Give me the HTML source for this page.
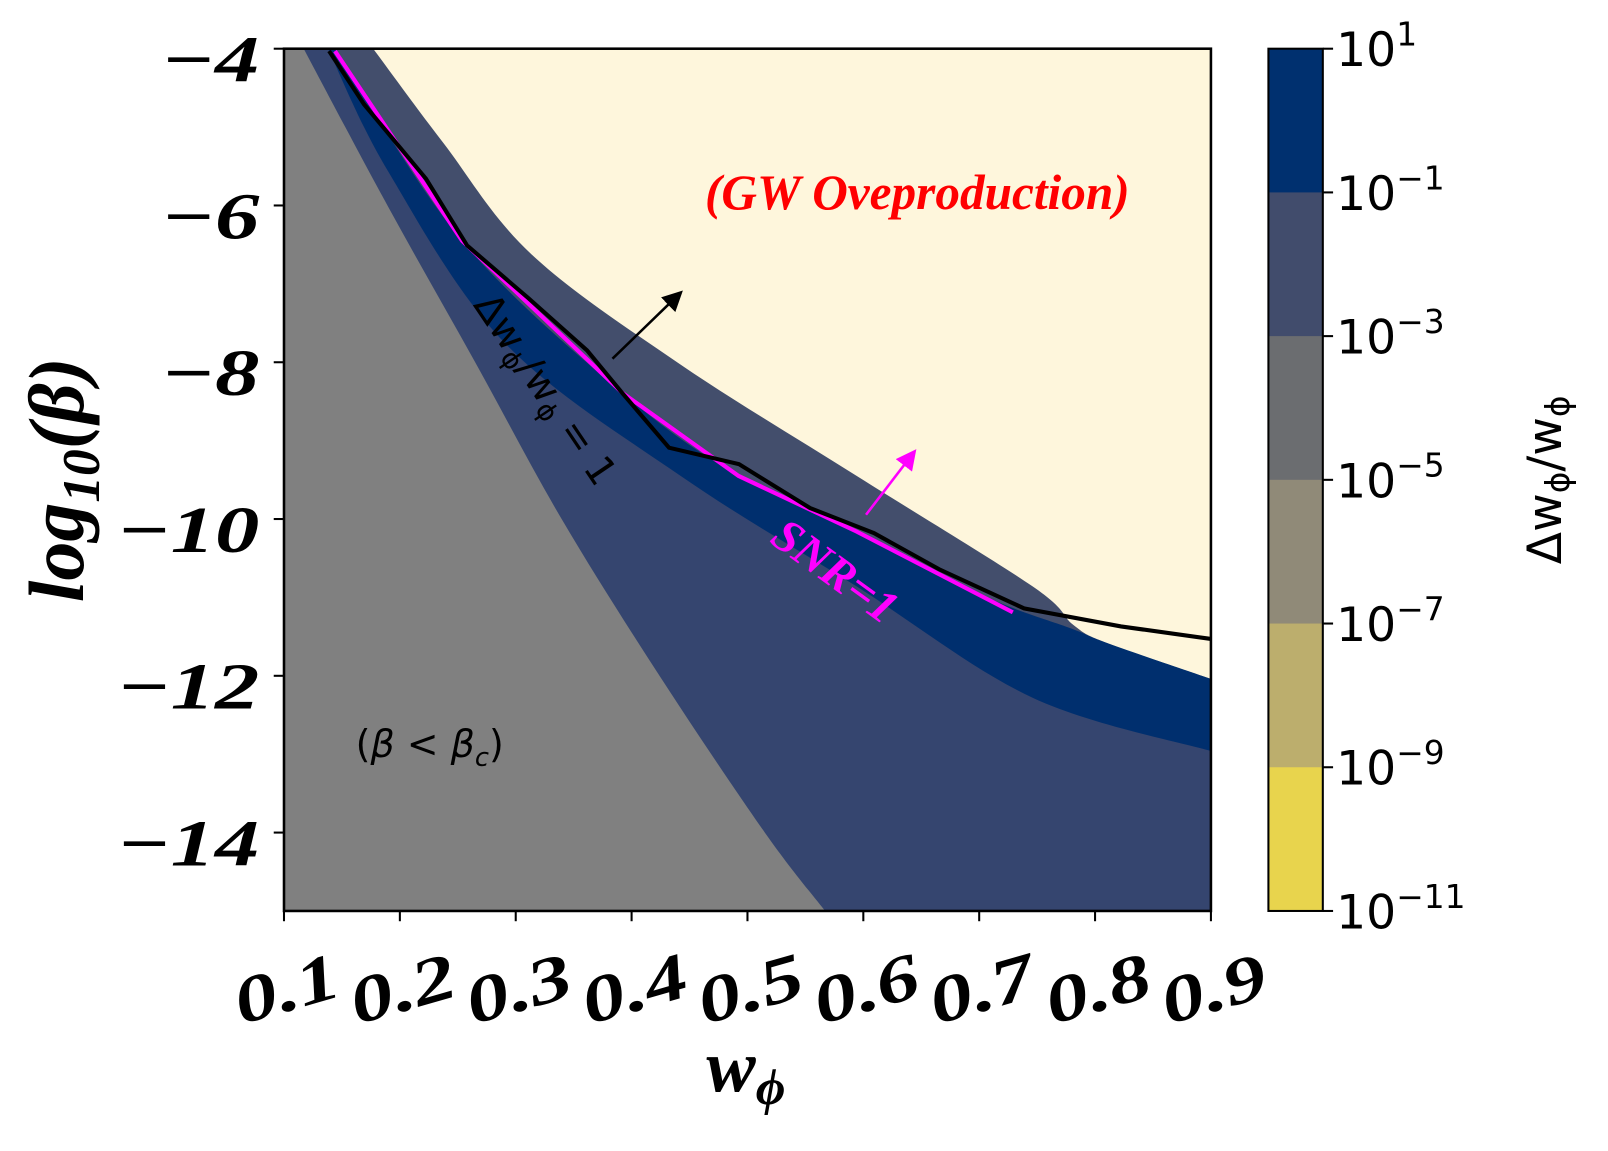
<!DOCTYPE html>
<html><head><meta charset="utf-8"><style>
body{margin:0;background:#fff;overflow:hidden;}
svg{display:block;}
</style></head><body>
<svg id="chart" width="1608" height="1151" viewBox="0 0 1608 1151" xmlns="http://www.w3.org/2000/svg">
<defs>
<marker id="ah" markerWidth="8" markerHeight="8" refX="6" refY="4" orient="auto"><path d="M0,0 L8,4 L0,8 Z" fill="#000"/></marker>
<marker id="ahm" markerWidth="8" markerHeight="8" refX="6" refY="4" orient="auto"><path d="M0,0 L8,4 L0,8 Z" fill="#ff00ff"/></marker>
</defs>
<g id="root" transform="translate(-1.37,1.48) scale(1.0265)">
<g id="layers"></g>
<g>
<line x1="598" y1="348" x2="663" y2="285" stroke="#000" stroke-width="2.5" marker-end="url(#ah)"/>
<line x1="845" y1="500" x2="891" y2="440" stroke="#ff00ff" stroke-width="2.5" marker-end="url(#ahm)"/>
<text x="895" y="202" text-anchor="middle" fill="#ff0000" style='font-family:"Liberation Serif",serif;font-style:italic;font-weight:bold;font-size:48px'>(GW Oveproduction)</text>
<text x="0" y="0" transform="translate(522,385) rotate(56)" text-anchor="middle" style='font-family:"DejaVu Sans",sans-serif;font-size:38px'>Δw<tspan font-size="26px" dy="7">ϕ</tspan><tspan dy="-7">/w</tspan><tspan font-size="26px" dy="7">ϕ</tspan><tspan dy="-7"> = 1</tspan></text>
<text x="0" y="0" transform="translate(806,567) rotate(36)" text-anchor="middle" fill="#ff00ff" style='font-family:"Liberation Serif",serif;font-style:italic;font-weight:bold;font-size:46px'>SNR=1</text>
<text x="420" y="736" text-anchor="middle" style='font-family:"DejaVu Sans",sans-serif;font-size:37px'>(<tspan font-style="italic">β</tspan> &lt; <tspan font-style="italic">β</tspan><tspan font-style="italic" font-size="25px" dy="9">c</tspan><tspan dy="-9">)</tspan></text>
<text x="0" y="0" transform="translate(82,466) rotate(-90)" text-anchor="middle" style='font-family:"Liberation Serif",serif;font-style:italic;font-weight:bold;font-size:76px'>log<tspan font-size="52px" dy="16">10</tspan><tspan dy="-16">(β)</tspan></text>
<text x="728" y="1062" text-anchor="middle" style='font-family:"Liberation Serif",serif;font-style:italic;font-weight:bold;font-size:72px'>w<tspan font-size="50px" dy="12">ϕ</tspan></text>
<text x="0" y="0" transform="translate(1522,466) rotate(-90)" text-anchor="middle" style='font-family:"DejaVu Sans",sans-serif;font-size:46px'>Δw<tspan font-size="32px" dy="8">ϕ</tspan><tspan dy="-8">/w</tspan><tspan font-size="32px" dy="8">ϕ</tspan></text>
</g>
</g>
</svg>
<script>
const xTicks=[0.1,0.2,0.3,0.4,0.5,0.6,0.7,0.8,0.9];
const yTicks=[-4,-6,-8,-10,-12,-14];
const grayW=[0.117,0.19,0.265,0.34,0.425,0.515,0.567];
const grayL=[-4,-6.02,-8.0,-10.01,-12.02,-14.0,-15.0];
const navyLowW=[0.138,0.1897,0.2903,0.4423,0.5942,0.7461,0.9];
const navyLowL=[-4,-5.56,-7.75,-9.45,-10.86,-12.28,-12.96];
const navyUpW=[0.144,0.2537,0.392,0.4923,0.5942,0.707,0.78,0.81,0.9];
const navyUpL=[-4,-6.45,-8.39,-9.45,-10.16,-11.0,-11.4,-11.58,-12.04];
const slateUpW=[0.177,0.2374,0.3134,0.4423,0.5942,0.7461,0.7812,0.81,0.9];
const slateUpL=[-4,-5.20,-6.62,-8.03,-9.45,-10.86,-11.35,-11.58,-12.04];
const snrW=[0.144,0.2537,0.392,0.4923,0.5942,0.729];
const snrL=[-4.03,-6.45,-8.39,-9.45,-10.16,-11.19];
const blkW=[0.1389,0.1691,0.2226,0.2580,0.3107,0.3616,0.3918,0.4323,0.4927,0.5540,0.6092,0.6653,0.7387,0.8224,0.9];
const blkL=[-4.03,-4.71,-5.66,-6.51,-7.18,-7.85,-8.39,-9.09,-9.30,-9.86,-10.18,-10.64,-11.14,-11.37,-11.53];
const cbExps=[1,-1,-3,-5,-7,-9,-11];
const cbColors=["#00306f","#414c6c","#6b6d70","#908a78","#bcae6d","#e8d44d"];

const X0=278,X1=1181,Y0=46,Y1=886;
const sx=w=>X0+(w-0.1)/0.8*(X1-X0);
const sy=L=>Y0+(-4-L)/11*(Y1-Y0);
const NS="http://www.w3.org/2000/svg";
function mk(tag,attrs,parent,txt){const e=document.createElementNS(NS,tag);for(const k in attrs)e.setAttribute(k,attrs[k]);if(txt!==undefined)e.textContent=txt;parent.appendChild(e);return e;}
const layers=document.getElementById('layers');

function smooth(P){
  let d='M'+P[0][0]+','+P[0][1];
  for(let i=0;i<P.length-1;i++){
    const p0=P[Math.max(0,i-1)],p1=P[i],p2=P[i+1],p3=P[Math.min(P.length-1,i+2)];
    const c1=[p1[0]+(p2[0]-p0[0])/6,p1[1]+(p2[1]-p0[1])/6];
    const c2=[p2[0]-(p3[0]-p1[0])/6,p2[1]-(p3[1]-p1[1])/6];
    d+=' C'+c1[0]+','+c1[1]+' '+c2[0]+','+c2[1]+' '+p2[0]+','+p2[1];
  }
  return d;
}

const bg=mk('rect',{x:X0,y:Y0,width:X1-X0,height:Y1-Y0,fill:'#fef6dc'},layers);



function below(ws,ls,fill,name){
  const P=ws.map((w,i)=>[sx(w),sy(ls[i])]);
  const d=smooth(P)+' L'+sx(0.9)+','+sy(-15)+' L'+sx(0.1)+','+sy(-15)+' L'+sx(0.1)+','+sy(-4)+' Z';
  const p=mk('path',{d:d,fill:fill},layers);
  
  
}
below(slateUpW,slateUpL,'#434e6c','contour-band-upper');
below(navyUpW,navyUpL,'#002f6e','contour-band-navy');
below(navyLowW,navyLowL,'#35456f','contour-band-lower');
{
  const P=grayW.map((w,i)=>[sx(w),sy(grayL[i])]);
  const d=smooth(P)+' L'+sx(0.1)+','+sy(-15)+' L'+sx(0.1)+','+sy(-4)+' Z';
  const p=mk('path',{d:d,fill:'#808080'},layers);
  
  
}
const snr=mk('polyline',{points:snrW.map((w,i)=>sx(w)+','+sy(snrL[i])).join(' '),fill:'none',stroke:'#ff00ff','stroke-width':4},layers);


const blk=mk('polyline',{points:blkW.map((w,i)=>sx(w)+','+sy(blkL[i])).join(' '),fill:'none',stroke:'#000','stroke-width':4},layers);



const frame=mk('rect',{x:X0,y:Y0,width:X1-X0,height:Y1-Y0,fill:'none',stroke:'#000','stroke-width':2.5},layers);



const serif='font-family:"Liberation Serif",serif;font-style:italic;font-weight:bold;';
xTicks.forEach(t=>{
  const x=sx(t);
  const l=mk('line',{x1:x,y1:Y1,x2:x,y2:Y1+10,stroke:'#000','stroke-width':2},layers);
  
  
  const tx=mk('text',{x:0,y:20,'text-anchor':'middle',style:serif+'font-size:64px',transform:`translate(${x+3} 963) rotate(-16) scale(1.3 1)`},layers,t.toFixed(1));
  
  
});
yTicks.forEach(t=>{
  const y=sy(t);
  const l=mk('line',{x1:X0-10,y1:y,x2:X0,y2:y,stroke:'#000','stroke-width':2},layers);
  
  
  const tx=mk('text',{x:0,y:0,'text-anchor':'end',style:serif+'font-size:64px',transform:`translate(254 ${y+32}) scale(1.35 1)`},layers,'\u2212'+Math.abs(t));
  
  
});
const CX=1237,CW=53,bh=(Y1-Y0)/6;
cbColors.forEach((c,i)=>{
  const r=mk('rect',{x:CX,y:Y0+i*bh,width:CW,height:bh+0.5,fill:c},layers);
  
  
});
const cbf=mk('rect',{x:CX,y:Y0,width:CW,height:Y1-Y0,fill:'none',stroke:'#000','stroke-width':2},layers);


cbExps.forEach((e,i)=>{
  const y=Y0+i*bh;
  const l=mk('line',{x1:CX+CW,y1:y,x2:CX+CW+10,y2:y,stroke:'#000','stroke-width':2},layers);
  
  
  const tx=mk('text',{x:1303,y:y+17,style:'font-family:"DejaVu Sans",sans-serif;font-size:46px'},layers);
  
  
  mk('tspan',{},tx,'10');
  mk('tspan',{dy:-20,'font-size':'32px'},tx,e<0?'\u2212'+Math.abs(e):String(e));
});
</script>
</body></html>
